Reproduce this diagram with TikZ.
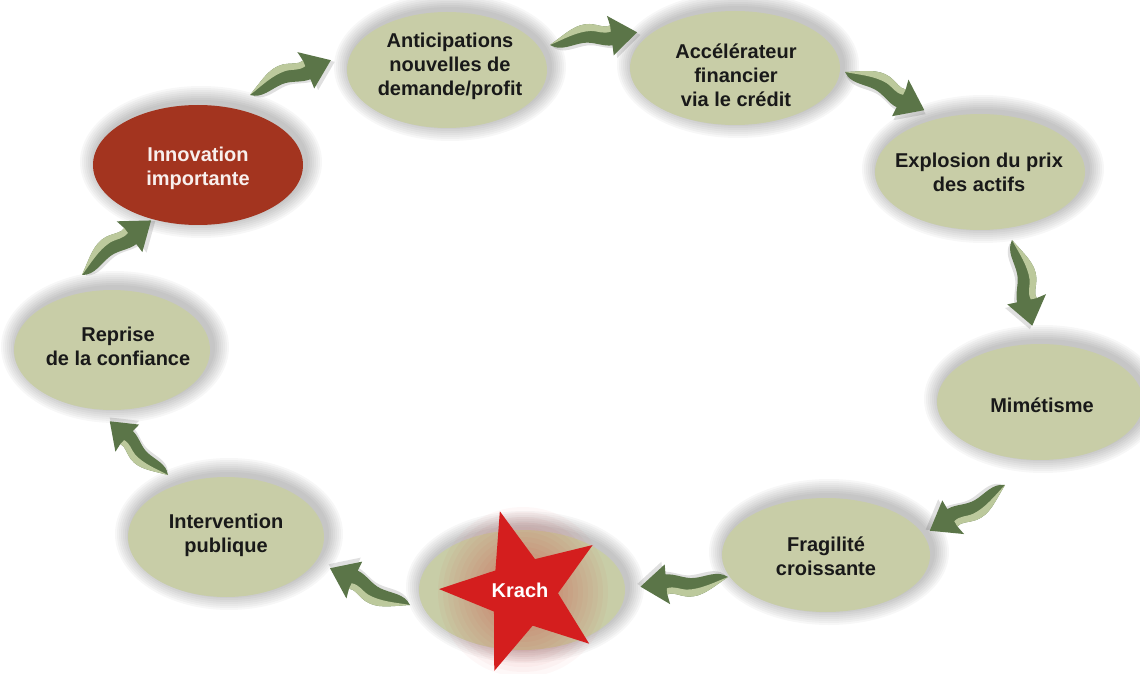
\documentclass[tikz,border=0pt]{standalone}
\usepackage{fontspec}
\setmainfont{Liberation Sans}
\usetikzlibrary{shapes.geometric}
\definecolor{sage}{HTML}{C8CDA7}
\definecolor{rust}{HTML}{A3341F}
\definecolor{leaf}{HTML}{5B7548}
\definecolor{leaflight}{HTML}{BCC99C}
\definecolor{krachred}{HTML}{D41E1E}

\begin{document}
\begin{tikzpicture}[x=1pt,y=1pt]
\tikzset{bubble/.style={fill=sage}}
\tikzset{every node/.style={font=\bfseries\fontsize{20}{24}\selectfont,align=center,text=black!90}}
\tikzset{swoosh/.pic={
  \fill[black,opacity=0.12,xshift=3,yshift=-3] (0,0) .. controls (18,10) and (28,18) .. (42,16) .. controls (52,14) and (56,10) .. (62,12) -- (60,22) -- (88,2) -- (62,-18) -- (62,-8) .. controls (52,-8) and (44,-2) .. (34,-2) .. controls (22,-2) and (10,-8) .. (0,0) -- cycle;
  \fill[leaf] (0,0) .. controls (18,10) and (28,18) .. (42,16) .. controls (52,14) and (56,10) .. (62,12) -- (60,22) -- (88,2) -- (62,-18) -- (62,-8) .. controls (52,-8) and (44,-2) .. (34,-2) .. controls (22,-2) and (10,-8) .. (0,0) -- cycle;
  \fill[leaflight] (0,0) .. controls (18,10) and (28,18) .. (42,16) .. controls (52,14) and (56,10) .. (62,12) -- (62,6) .. controls (54,4) and (50,8) .. (42,9) .. controls (28,10) and (14,4) .. (0,0) -- cycle;
}}

\useasboundingbox (0,0) rectangle (1140,673);

% soft shadows round the bubbles
\foreach \x/\y/\rx/\ry in {198/508/105/60, 447/603/100/58, 735/605/105/57, 980/501/105/58,
    1040/271/103/58, 826/118/104/57, 522/83/103/60, 226/136/98/60, 112/323/98/60}{
  \foreach \i in {1,...,8}
    \fill[black,opacity=0.03] (\x+3,\y+3) ellipse ({\rx+2*\i} and {\ry+2*\i});
}

% bubbles
\foreach \x/\y/\rx/\ry in {447/603/100/58, 735/605/105/57, 980/501/105/58,
    1040/271/103/58, 826/118/104/57, 522/83/103/60, 226/136/98/60, 112/323/98/60}
  \fill[bubble] (\x,\y) ellipse ({\rx} and {\ry});
\fill[rust] (198,508) ellipse (105 and 60);

% krach glow and star
\foreach \r in {40,45,...,85}
  \fill[krachred,opacity=0.03] (523,81) circle (\r);
\node[star,star points=5,star point ratio=2.4,minimum size=168,inner sep=0,
  fill=krachred,shape border rotate=16] (krachstar) at (523,81) {};

% texts
\node[text=white!92!rust] (innov) at (198,505) {Innovation\\importante};
\node (antic) at (450,607) {Anticipations\\nouvelles de\\demande/profit};
\node (accel) at (736,598) {Accélérateur\\financier\\via le crédit};
\node (explo) at (979,501) {Explosion du prix\\des actifs};
\node (mimet) at (1042,268) {Mimétisme};
\node (fragi) at (826,117) {Fragilité\\croissante};
\node[text=white] (krach) at (520,83) {Krach};
\node (inter) at (226,138) {Intervention\\publique};
\node (repri) at (118,327) {Reprise\\de la confiance};

% swooshes
\path (250,578) pic[rotate=22] {swoosh};
\path (550,628) pic[rotate=7] {swoosh};
\path (845,601) pic[rotate=-27] {swoosh};
\path (1012,433) pic[rotate=-78] {swoosh};
\path (1005,188) pic[rotate=-150] {swoosh};
\path (728,96) pic[rotate=185] {swoosh};
\path (410,68) pic[rotate=154] {swoosh};
\path (168,198) pic[rotate=136,scale=0.9] {swoosh};
\path (82,398) pic[rotate=37] {swoosh};

\end{tikzpicture}
\end{document}
